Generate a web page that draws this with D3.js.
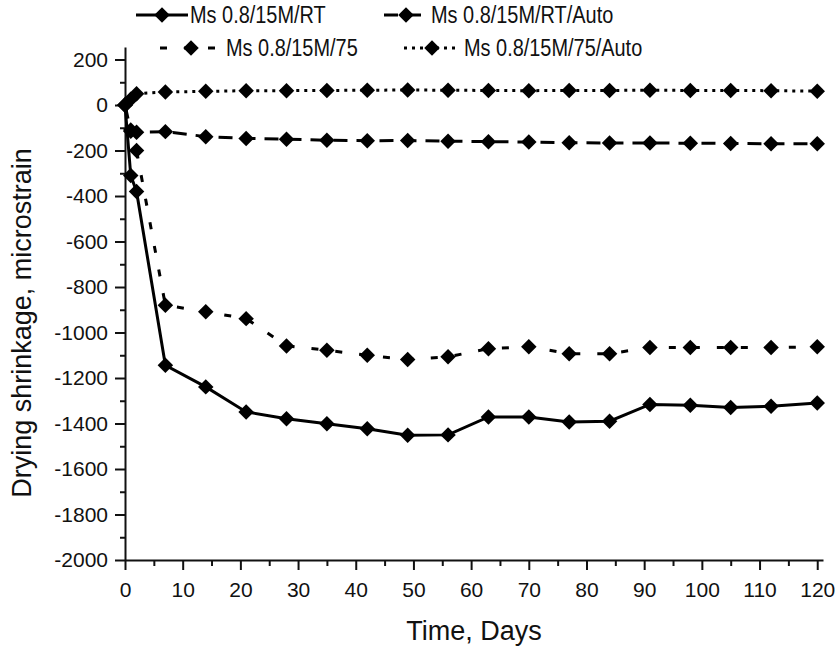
<!DOCTYPE html>
<html>
<head>
<meta charset="utf-8">
<script src="https://cdn.jsdelivr.net/npm/d3@7"></script>
<style>
  body { margin: 0; background: #fff; }
  svg text { fill: #111; }
</style>
</head>
<body>
<div id="chart"></div>
<script>
// data
var days = [0, 1, 2, 7, 14, 21, 28, 35, 42, 49, 56, 63, 70, 77, 84, 91, 98, 105, 112, 120];
var rt = [0, -310, -380, -1144, -1239, -1349, -1379, -1401, -1423, -1452, -1450, -1371, -1371, -1393, -1390, -1316, -1320, -1330, -1324, -1310];
var rtAuto = [0, -115, -120, -117, -139, -147, -150, -155, -157, -156, -159, -161, -163, -166, -167, -167, -168, -169, -170, -170];
var m75 = [0, -110, -200, -880, -909, -939, -1059, -1078, -1100, -1119, -1107, -1071, -1063, -1093, -1093, -1066, -1066, -1066, -1066, -1063];
var m75Auto = [0, 25, 50, 57, 60, 63, 63, 64, 65, 66, 65, 64, 63, 64, 64, 65, 64, 64, 63, 61];
var seriesNames = ["Ms 0.8/15M/RT", "Ms 0.8/15M/RT/Auto", "Ms 0.8/15M/75", "Ms 0.8/15M/75/Auto"];
var yTicks = [-2000, -1800, -1600, -1400, -1200, -1000, -800, -600, -400, -200, 0, 200];
var xTicks = [0, 10, 20, 30, 40, 50, 60, 70, 80, 90, 100, 110, 120];

var series = [
  { name: seriesNames[0], vals: rt, dash: null },
  { name: seriesNames[1], vals: rtAuto, dash: "14,9" },
  { name: seriesNames[2], vals: m75, dash: "7,17" },
  { name: seriesNames[3], vals: m75Auto, dash: "3,5" }
];

var svg = d3.select("#chart")
  .append("svg")
  .attr("width", 837)
  .attr("height", 650);

var x = d3.scaleLinear().domain([0, 121]).range([125, 823]);
var y = d3.scaleLinear().domain([-2000, 255]).range([560, 47]);

var plain = function(d) { return String(d); };

// minor ticks first
svg.append("g")
  .attr("transform", "translate(0,560)")
  .call(d3.axisBottom(x).tickValues(d3.range(5, 120, 10)).tickSize(6).tickSizeOuter(0).tickFormat(""))
  .call(function(g) { g.select(".domain").remove(); });
svg.append("g")
  .attr("transform", "translate(125,0)")
  .call(d3.axisLeft(y).tickValues(d3.range(-1900, 200, 200)).tickSize(5).tickSizeOuter(0).tickFormat(""))
  .call(function(g) { g.select(".domain").remove(); });

var xAxis = svg.append("g")
  .attr("transform", "translate(0,560)")
  .call(d3.axisBottom(x).tickValues(xTicks).tickSize(10).tickSizeOuter(0).tickPadding(12).tickFormat(plain));
var yAxis = svg.append("g")
  .attr("transform", "translate(125,0)")
  .call(d3.axisLeft(y).tickValues(yTicks).tickSize(10).tickSizeOuter(0).tickPadding(7).tickFormat(plain));

svg.selectAll(".tick line").attr("stroke", "#111").attr("stroke-width", 2);
svg.selectAll(".domain").attr("stroke", "#111").attr("stroke-width", 2);
svg.selectAll(".tick text")
  .style("font-family", "'Liberation Sans', Arial, sans-serif")
  .style("font-size", "21px");

// axis titles
svg.append("text")
  .attr("x", 474).attr("y", 640)
  .attr("text-anchor", "middle")
  .style("font-family", "'Liberation Sans', Arial, sans-serif")
  .style("font-size", "27px")
  .text("Time, Days");
svg.append("text")
  .attr("transform", "translate(31,323) rotate(-90)")
  .attr("text-anchor", "middle")
  .style("font-family", "'Liberation Sans', Arial, sans-serif")
  .style("font-size", "27px")
  .text("Drying shrinkage, microstrain");

var line = d3.line()
  .x(function(d) { return x(d[0]); })
  .y(function(d) { return y(d[1]); });

var diamond = d3.symbol().type(d3.symbolSquare).size(120);

series.forEach(function(s) {
  var pts = days.map(function(d, i) { return [d, s.vals[i]]; });
  svg.append("path")
    .datum(pts)
    .attr("d", line)
    .attr("fill", "none")
    .attr("stroke", "#000")
    .attr("stroke-width", 3)
    .attr("stroke-dasharray", s.dash);
  svg.selectAll(null)
    .data(pts)
    .enter()
    .append("path")
    .attr("d", diamond)
    .attr("transform", function(d) { return "translate(" + x(d[0]) + "," + y(d[1]) + ") rotate(45)"; })
    .attr("fill", "#000");
});

// legend (text squeezed horizontally like the original narrow font)
var legendItems = [
  { s: series[0], x1: 136, x2: 188, tx: 190, cy: 15 },
  { s: series[1], x1: 384, x2: 428, tx: 431, cy: 15 },
  { s: series[2], x1: 160, x2: 222, tx: 226, cy: 48 },
  { s: series[3], x1: 404, x2: 460, tx: 464, cy: 48 }
];
var legend = svg.append("g");
legendItems.forEach(function(it) {
  legend.append("line")
    .attr("x1", it.x1).attr("x2", it.x2)
    .attr("y1", it.cy).attr("y2", it.cy)
    .attr("stroke", "#000")
    .attr("stroke-width", 3)
    .attr("stroke-dasharray", it.s.dash);
  legend.append("path")
    .attr("d", diamond)
    .attr("transform", "translate(" + ((it.x1 + it.x2) / 2) + "," + it.cy + ") rotate(45)")
    .attr("fill", "#000");
  legend.append("text")
    .attr("transform", "translate(" + it.tx + "," + (it.cy + 8) + ") scale(0.83,1)")
    .style("font-family", "'Liberation Sans', Arial, sans-serif")
    .style("font-size", "24px")
    .text(it.s.name);
});
</script>
</body>
</html>
